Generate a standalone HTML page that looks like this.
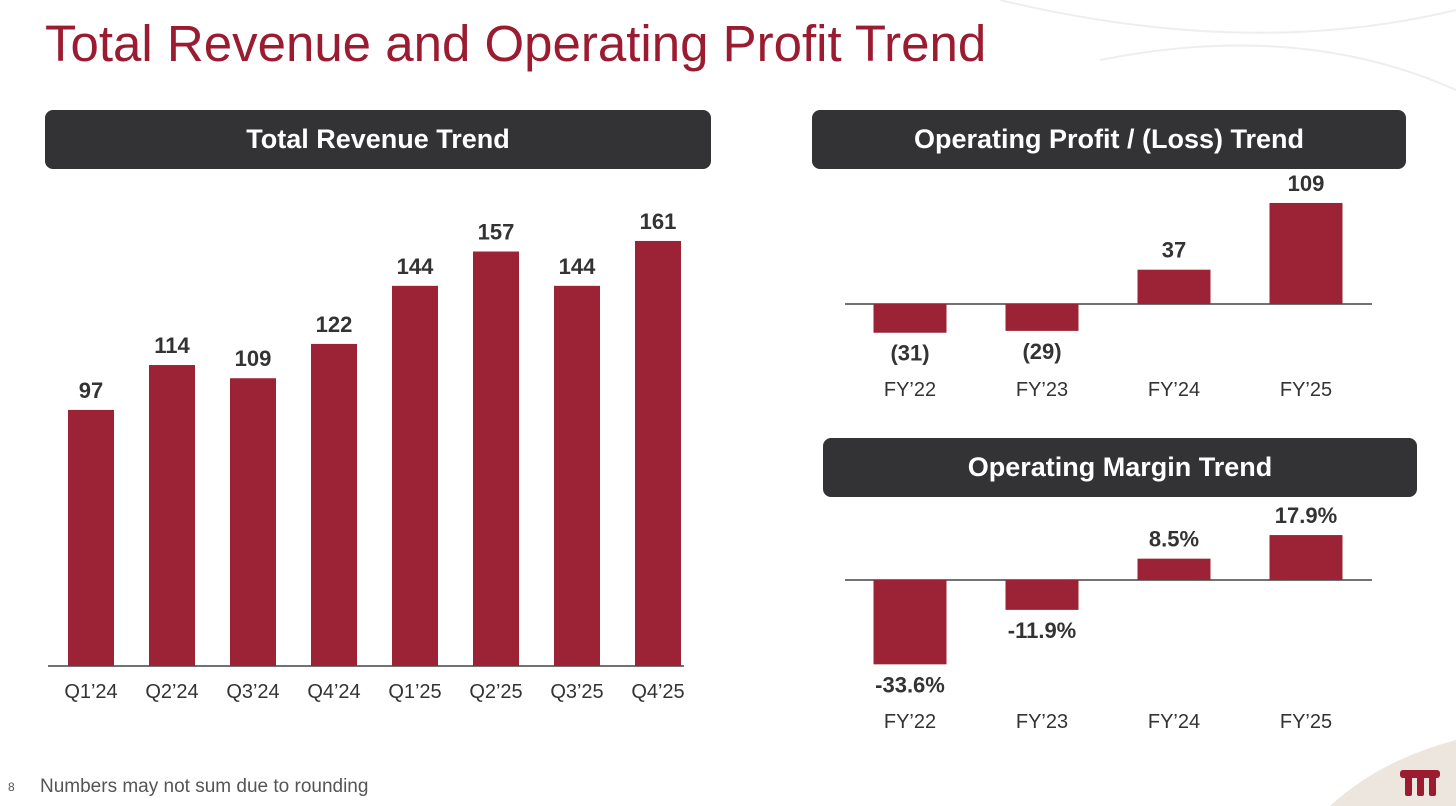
<!DOCTYPE html>
<html><head><meta charset="utf-8">
<style>
html,body{margin:0;padding:0;background:#fff;}
body{width:1456px;height:806px;overflow:hidden;position:relative;font-family:"Liberation Sans",sans-serif;}
.title{position:absolute;left:45px;top:14px;font-size:51px;color:#9b1b30;white-space:nowrap;}
.hdr{position:absolute;background:#333335;border-radius:8px;color:#fff;font-weight:bold;font-size:27px;display:flex;align-items:center;justify-content:center;}
.foot{position:absolute;left:40px;top:776px;font-size:19px;color:#555;}
.pg{position:absolute;left:8px;top:780px;font-size:12px;color:#555;}
</style></head><body>
<svg width="1456" height="806" style="position:absolute;left:0;top:0">
<path d="M1100 60 Q1300 20 1456 90" stroke="#eee" stroke-width="2" fill="none"/>
<path d="M1000 0 Q1250 60 1456 10" stroke="#eee" stroke-width="2" fill="none"/>
<path d="M1330 806 Q1380 760 1456 740 L1456 806 Z" fill="#ece6df"/>
<g fill="#9b1b30"><rect x="1400" y="770" width="40" height="8" rx="3"/><rect x="1405" y="770" width="7" height="26" rx="2"/><rect x="1417" y="770" width="7" height="26" rx="2"/><rect x="1429" y="770" width="7" height="26" rx="2"/></g>
</svg>
<div class="title">Total Revenue and Operating Profit Trend</div>
<div class="hdr" style="left:45px;top:110px;width:666px;height:59px">Total Revenue Trend</div>
<div class="hdr" style="left:812px;top:110px;width:594px;height:59px">Operating Profit / (Loss) Trend</div>
<div class="hdr" style="left:823px;top:438px;width:594px;height:59px">Operating Margin Trend</div>
<svg id="c" width="1456" height="806" style="position:absolute;left:0;top:0"></svg>
<div class="pg">8</div>
<div class="foot">Numbers may not sum due to rounding</div>
<script>
const revCats=["Q1’24","Q2’24","Q3’24","Q4’24","Q1’25","Q2’25","Q3’25","Q4’25"];
const revVals=[97,114,109,122,144,157,144,161];
const fyCats=["FY’22","FY’23","FY’24","FY’25"];
const opVals=[-31,-29,37,109];
const opLabels=["(31)","(29)","37","109"];
const marVals=[-33.6,-11.9,8.5,17.9];
const marLabels=["-33.6%","-11.9%","8.5%","17.9%"];
const NS="http://www.w3.org/2000/svg";
const svg=document.getElementById('c');
function mk(t,a,txt){const e=document.createElementNS(NS,t);for(const k in a)e.setAttribute(k,a[k]);if(txt!=null)e.textContent=txt;svg.appendChild(e);return e;}
function chart(cats,vals,labels,x0,step,bw,base,scale,lx1,lx2,catY,name){
  const ln=mk('line',{x1:lx1,x2:lx2,y1:base,y2:base,stroke:'#444','stroke-width':1.5});
  
  
  vals.forEach((v,i)=>{
    const cx=x0+i*step,h=Math.abs(v)*scale,y=v>=0?base-h:base;
    const r=mk('rect',{x:cx-bw/2,y:y,width:bw,height:h,fill:'#9b2335'});
    
    
    const ly=v>=0?y-12:y+h+28;
    const t=mk('text',{x:cx,y:ly,'text-anchor':'middle','font-size':22,'font-weight':'bold',fill:'#333'},labels[i]);
    
    
    const c=mk('text',{x:cx,y:catY,'text-anchor':'middle','font-size':20,fill:'#333'},cats[i]);
    
    
  });
}
chart(revCats,revVals,revVals.map(String),91,81,46,666,2.64,48,684,698,'revenue');
chart(fyCats,opVals,opLabels,910,132,73,304,0.927,845,1372,396,'profit');
chart(fyCats,marVals,marLabels,910,132,73,580,2.51,845,1372,728,'margin');
</script>
</body></html>
